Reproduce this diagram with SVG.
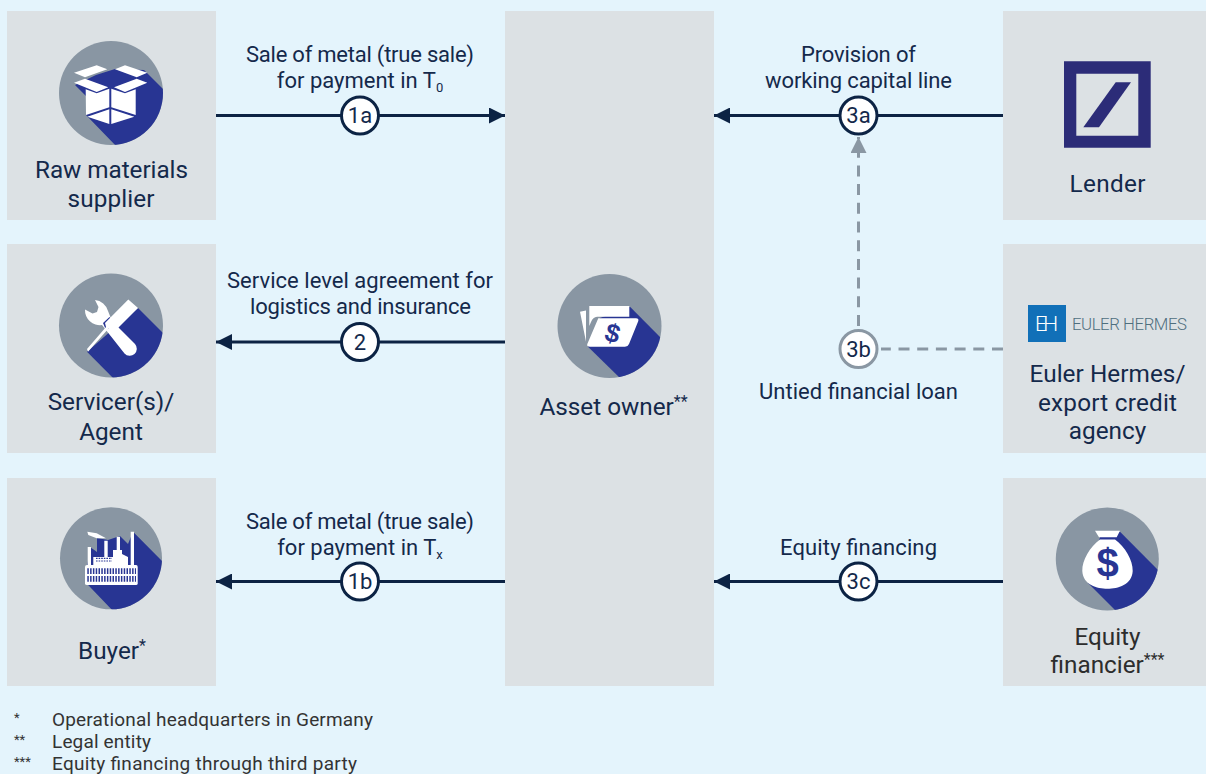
<svg xmlns="http://www.w3.org/2000/svg" width="1206" height="774" viewBox="0 0 1206 774">
<style>
text{font-family:Roboto,"Liberation Sans",sans-serif;fill:#14294b}
.n{font-size:24.300px;text-anchor:middle}
.l{font-size:22px;text-anchor:middle}
.c{font-size:22px;text-anchor:middle}
.f{font-size:19px;fill:#333}
.m{font-size:13px;fill:#333}
.s{font-size:16px}
.box{fill:#dce1e4}
.disc{fill:#8996a3}
.sh{fill:#283593}
.w{fill:#fff}
.wire{stroke:#0c2344;stroke-width:3;fill:none}
.dash{stroke:#8a97a3;stroke-width:3;fill:none;stroke-dasharray:11 7.700}
.rn{fill:#fff;stroke:#0c2344;stroke-width:3}
.rg{fill:#fff;stroke:#8a97a3;stroke-width:3}
</style>
<defs>
<marker id="a" markerUnits="userSpaceOnUse" markerWidth="16" markerHeight="16" refX="16" refY="8" orient="auto"><path d="M0 0L16 8L0 16Z" fill="#0c2344"/></marker>
<marker id="g" markerUnits="userSpaceOnUse" markerWidth="16" markerHeight="16" refX="16" refY="8" orient="auto"><path d="M0 0L16 8L0 16Z" fill="#8a97a3"/></marker>
<clipPath id="c1"><circle cx="111" cy="93" r="52"/></clipPath>
<clipPath id="c2"><circle cx="111" cy="325.500" r="52"/></clipPath>
<clipPath id="c3"><circle cx="111" cy="558.300" r="51"/></clipPath>
<clipPath id="c4"><circle cx="609.500" cy="326" r="52"/></clipPath>
<clipPath id="c5"><circle cx="1107.300" cy="559" r="51.500"/></clipPath>
</defs>
<rect width="1206" height="774" fill="#e4f4fc"/>

<g id="supplier">
<rect class="box" x="7" y="11" width="209" height="209"/>
<circle class="disc" cx="111" cy="93" r="52"/>
<path class="sh" clip-path="url(#c1)" d="M96 75L115 69L144 70L175 101L175 160L118 148L86 115L86 96L75 85Z"/>
<path class="w" d="M74 72.700L96.700 65.300L107.300 69.300L85 77.300ZM115 69.300L125 65.300L147.300 72.700L136.700 77.300ZM74 82.700L85 78.700L108.300 87.300L96.700 92ZM114 87.300L136.700 78.700L147.300 82.700L125 92ZM85.700 89.300L96.700 93.300L109.300 88.700V107.300L86 115ZM111.300 88.700L125 93.300L135.700 89.300V115L111.300 107.300ZM87.300 116.700L109.300 109.300V124ZM111.300 109.300L134.300 116.700L111.300 124Z"/>
<text class="n" x="111.500" y="178" textLength="153">Raw materials</text>
<text class="n" x="111" y="207" textLength="87">supplier</text>
</g>

<g id="servicer">
<rect class="box" x="7" y="244" width="209" height="209"/>
<circle class="disc" cx="111" cy="325.500" r="52"/>
<path class="sh" clip-path="url(#c2)" d="M138 308L175 345L175 400L120 385L87 351.700L112 330Z"/>
<path class="w" d="M85 309.500L92.500 313.500L97 312L98.500 307L95 300A15 15 0 0 1 108 311L112 321L135 344A6.500 6.500 0 0 1 124.500 353.500L102 325A15 15 0 0 1 85 309.500Z"/>
<path class="sh" d="M103 323L109.500 317L112 320L107.500 325L109 328L106 330Z"/>
<path class="w" d="M128.300 299.500L138 308L114 332L109 328L88 351.700L87 349L106 327L105 323Z"/>
<text class="n" x="111" y="410">Servicer(s)/</text>
<text class="n" x="111" y="440">Agent</text>
</g>

<g id="buyer">
<rect class="box" x="7" y="478" width="209" height="208"/>
<circle class="disc" cx="111" cy="558.300" r="51"/>
<path class="sh" clip-path="url(#c3)" d="M133 531.700L175 574L175 630L114 612L85 581.700L90 547L97 552L97 538L108 540L120 536L128 544Z"/>
<path class="w" d="M87.700 547H91V565H87.700ZM104.300 540.700H107.700V558H104.300ZM116.700 536.700H120V552H116.700ZM130.700 531.700H134V565H130.700ZM113 550H122V554L128 557V566H93.300V557H113Z"/>
<path class="w" d="M87.300 531.700L96.700 533.300L106 538.300H96.700L88.300 535Z"/>
<path d="M96 558.300H112" stroke="#283593" stroke-width="1.200" stroke-dasharray="1.600 1" fill="none"/>
<path d="M96 561H112" stroke="#283593" stroke-width="1.200" stroke-dasharray="1.600 1" fill="none"/>
<path class="w" d="M87 565H136Q137.700 565 137.700 567V583.500Q137.700 585 136 585H87Q85 585 85 583.500V567Q85 565 87 565Z"/>
<path d="M87.300 571.200H136M87.300 578.800H136" stroke="#283593" stroke-width="5.700" stroke-dasharray="1.500 1.300" fill="none"/>
<text class="n" x="112" y="659">Buyer<tspan class="s" dy="-8">*</tspan></text>
</g>

<g id="asset-owner">
<rect class="box" x="505" y="11" width="209" height="675"/>
<circle class="disc" cx="609.500" cy="326" r="52"/>
<path class="sh" clip-path="url(#c4)" d="M630 306.700L665 342L665 400L622 380L588 346.700L600 318Z"/>
<path class="w" d="M589.300 306H629.300V316.700H597Q593 317 591 322L589.300 326ZM580 311.700L586 310.500V341.700Z"/>
<path class="w" d="M598.300 318.300H636Q639 318.300 638.300 321L629 344Q628 346.700 625 346.700H590Q586.500 346.700 587.300 344Z"/>
<text x="612.500" y="342" font-size="26" font-weight="700" text-anchor="middle" transform="rotate(16 612.500 334)" style="font-family:'Liberation Sans',sans-serif;fill:#283593">$</text>
<text class="n" x="613.500" y="415">Asset owner<tspan class="s" dy="-8">**</tspan></text>
</g>

<g id="lender">
<rect class="box" x="1003" y="11" width="203" height="209"/>
<path fill="#2c2c78" fill-rule="evenodd" d="M1064 61.300H1150.700V147.700H1064ZM1076.300 73.700V135.700H1138.300V73.700Z"/>
<path fill="#2c2c78" d="M1115.700 82.300H1131L1099 127.300H1083.300Z"/>
<text class="n" x="1107.500" y="192" textLength="76">Lender</text>
</g>

<g id="euler-hermes">
<rect class="box" x="1003" y="244" width="203" height="209"/>
<rect x="1028" y="305" width="38" height="37" fill="#1170b8"/>
<text x="1046.500" y="331" font-size="21" font-weight="300" text-anchor="middle" textLength="23" style="fill:#fff">EH</text>
<text x="1072" y="330" font-size="16.800" font-weight="300" textLength="115" style="fill:#4f6f7e">EULER HERMES</text>
<text class="n" x="1107.500" y="382" textLength="156">Euler Hermes/</text>
<text class="n" x="1107.500" y="411" textLength="139">export credit</text>
<text class="n" x="1107.500" y="439">agency</text>
</g>

<g id="equity-financier">
<rect class="box" x="1003" y="478" width="203" height="208"/>
<circle class="disc" cx="1107.300" cy="559" r="51.500"/>
<path class="sh" clip-path="url(#c5)" d="M1120 531.700L1160 572L1160 630L1118 613L1088 583L1100 537Z"/>
<path class="w" d="M1095 530.700H1120L1116.700 537.300H1099ZM1100 539.500H1115C1125 547 1133 560 1132.700 571C1132 585 1118 588.700 1107.500 588.700C1097 588.700 1083 585 1082.300 571C1082 560 1090 547 1100 539.500Z"/>
<text x="1107.500" y="577" font-size="40" font-weight="700" text-anchor="middle" style="font-family:'Liberation Sans',sans-serif;fill:#283593">$</text>
<text class="n" x="1107.500" y="645" style="fill:#2d2d2d">Equity</text>
<text class="n" x="1107.500" y="673" style="fill:#2d2d2d">financier<tspan class="s" dy="-8" style="fill:#2d2d2d">***</tspan></text>
</g>

<g id="connectors">
<path class="wire" d="M216 115.500H505" marker-end="url(#a)"/>
<path class="wire" d="M505 342H216" marker-end="url(#a)"/>
<path class="wire" d="M505 581.500H216" marker-end="url(#a)"/>
<path class="wire" d="M1003 115.500H714" marker-end="url(#a)"/>
<path class="wire" d="M1003 581.500H714" marker-end="url(#a)"/>
<path class="dash" d="M858.500 326V137" marker-end="url(#g)"/>
<path class="dash" d="M1003 349H881"/>
</g>

<g id="labels">
<text class="l" x="360" y="62" textLength="228">Sale of metal (true sale)</text>
<text class="l" x="360" y="88">for payment in T<tspan font-size="13" dy="4">0</tspan></text>
<text class="l" x="360" y="288" textLength="266">Service level agreement for</text>
<text class="l" x="360.500" y="314" textLength="221">logistics and insurance</text>
<text class="l" x="360" y="529" textLength="228">Sale of metal (true sale)</text>
<text class="l" x="360" y="555">for payment in T<tspan font-size="13" dy="4">x</tspan></text>
<text class="l" x="858.500" y="62" textLength="115">Provision of</text>
<text class="l" x="858.500" y="88" textLength="187">working capital line</text>
<text class="l" x="858.500" y="399" textLength="199">Untied financial loan</text>
<text class="l" x="858.500" y="555" textLength="157">Equity financing</text>
</g>

<g id="step-1a"><circle class="rn" cx="360" cy="115.500" r="18.500"/><text class="c" x="360" y="123">1a</text></g>
<g id="step-2"><circle class="rn" cx="360" cy="342" r="18.500"/><text class="c" x="360" y="349.500">2</text></g>
<g id="step-1b"><circle class="rn" cx="360" cy="581.500" r="18.500"/><text class="c" x="360" y="589">1b</text></g>
<g id="step-3a"><circle class="rn" cx="858.500" cy="115.500" r="18.500"/><text class="c" x="858.500" y="123">3a</text></g>
<g id="step-3b"><circle class="rg" cx="858.500" cy="349" r="18.500"/><text class="c" x="858.500" y="356.500">3b</text></g>
<g id="step-3c"><circle class="rn" cx="858.500" cy="581.500" r="18.500"/><text class="c" x="858.500" y="589">3c</text></g>

<g id="footnotes">
<text class="m" x="14" y="722" style="fill:#333">*</text>
<text class="f" x="52" y="726" textLength="321" style="fill:#333">Operational headquarters in Germany</text>
<text class="m" x="14" y="744" style="fill:#333">**</text>
<text class="f" x="52" y="748" textLength="99" style="fill:#333">Legal entity</text>
<text class="m" x="14" y="766" style="fill:#333">***</text>
<text class="f" x="52" y="770" textLength="305" style="fill:#333">Equity financing through third party</text>
</g>
</svg>
